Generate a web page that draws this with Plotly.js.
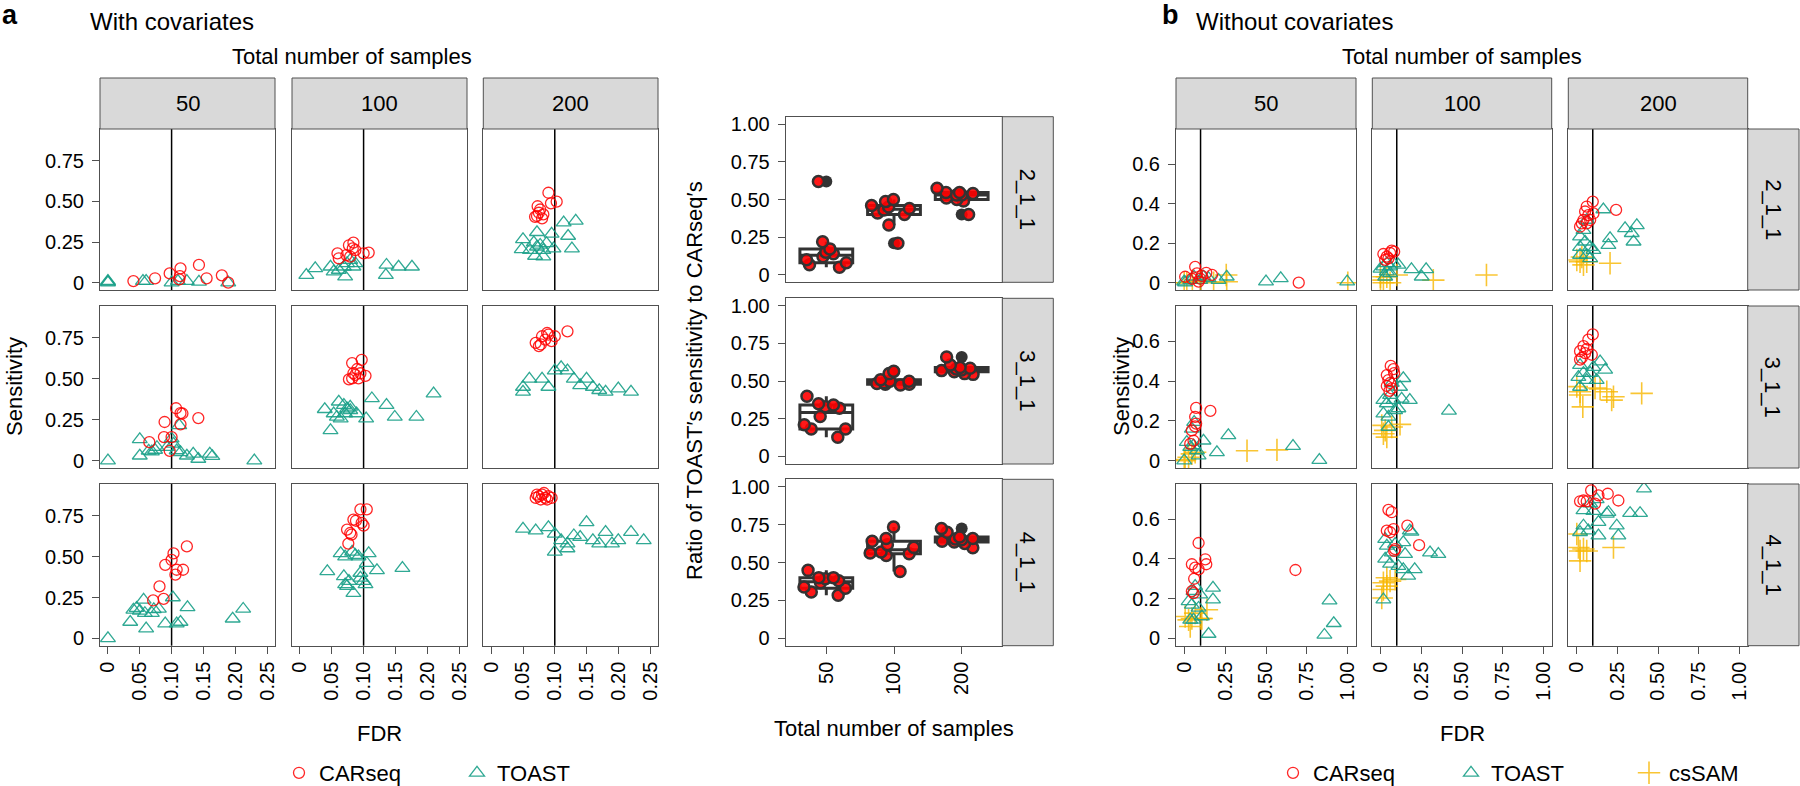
<!DOCTYPE html>
<html><head><meta charset="utf-8">
<script src="https://cdn.plot.ly/plotly-3.0.1.min.js"></script>
<style>html,body{margin:0;padding:0;background:#fff;overflow:hidden}#chart{width:1800px;height:786px}</style>
</head><body><div id="chart"></div>
<script>
// ---------------- DATA ----------------
// Panel a (with covariates): FDR / sensitivity, rows = 2_1_1, 3_1_1, 4_1_1; columns = 50,100,200 samples
const a211_50_car_fdr  = [0.04,0.074,0.097,0.114,0.113,0.112,0.143,0.155,0.179,0.189];
const a211_50_car_sens = [0.01,0.027,0.057,0.088,0.04,0.02,0.109,0.027,0.045,0.0];
const a211_50_toast_fdr  = [0,0,0,0.055,0.06,0.124,0.143,0.189,0.10,0.11];
const a211_50_toast_sens = [0,0.005,0.01,0.01,0.01,0.01,0.005,0.0,0.0,0.01];
const a211_100_car_fdr  = [0.059,0.061,0.077,0.084,0.083,0.087,0.079,0.1,0.108,0.073];
const a211_100_car_sens = [0.18,0.15,0.23,0.246,0.211,0.20,0.16,0.18,0.185,0.17];
const a211_100_toast_fdr  = [0.010,0.024,0.048,0.053,0.061,0.069,0.074,0.079,0.084,0.087,0.071,0.136,0.155,0.176,0.135];
const a211_100_toast_sens = [0.047,0.088,0.098,0.068,0.078,0.098,0.119,0.139,0.098,0.119,0.037,0.109,0.098,0.098,0.047];
const a211_200_car_fdr  = [0.09,0.103,0.094,0.073,0.077,0.072,0.08,0.069,0.075,0.082];
const a211_200_car_sens = [0.553,0.498,0.488,0.47,0.45,0.41,0.395,0.405,0.43,0.42];
const a211_200_toast_fdr  = [0.114,0.133,0.121,0.127,0.095,0.072,0.05,0.048,0.067,0.072,0.077,0.082,0.069,0.082,0.098,0.061,0.087];
const a211_200_toast_sens = [0.369,0.38,0.287,0.21,0.30,0.31,0.266,0.205,0.246,0.221,0.232,0.2,0.164,0.16,0.21,0.2,0.242];

const a311_50_car_fdr  = [0.065,0.089,0.088,0.10,0.107,0.114,0.117,0.114,0.142,0.097];
const a311_50_car_sens = [0.113,0.236,0.144,0.144,0.32,0.29,0.288,0.222,0.26,0.06];
const a311_50_toast_fdr  = [0,0.05,0.05,0.064,0.069,0.074,0.077,0.093,0.10,0.103,0.108,0.112,0.114,0.124,0.134,0.142,0.16,0.164,0.23];
const a311_50_toast_sens = [0,0.13,0.03,0.06,0.055,0.065,0.082,0.082,0.134,0.103,0.062,0.216,0.051,0.03,0.041,0.01,0.041,0.027,0.0];
const a311_100_car_fdr  = [0.082,0.097,0.09,0.084,0.077,0.082,0.092,0.103,0.087,0.095];
const a311_100_car_sens = [0.596,0.616,0.56,0.534,0.497,0.503,0.503,0.518,0.524,0.534];
const a311_100_toast_fdr  = [0.039,0.061,0.053,0.048,0.058,0.064,0.071,0.079,0.079,0.089,0.104,0.113,0.136,0.149,0.183,0.21,0.069,0.074];
const a311_100_toast_sens = [0.314,0.36,0.288,0.185,0.267,0.257,0.288,0.329,0.308,0.288,0.257,0.38,0.339,0.267,0.267,0.41,0.339,0.318];
const a311_200_car_fdr  = [0.07,0.075,0.08,0.085,0.09,0.095,0.1,0.078,0.088,0.12];
const a311_200_car_sens = [0.72,0.70,0.76,0.74,0.77,0.73,0.76,0.71,0.78,0.79];
const a311_200_toast_fdr  = [0.05,0.06,0.08,0.1,0.11,0.12,0.13,0.15,0.16,0.17,0.2,0.22,0.05,0.09,0.14,0.18];
const a311_200_toast_sens = [0.45,0.5,0.5,0.55,0.57,0.55,0.5,0.5,0.45,0.43,0.44,0.42,0.42,0.45,0.46,0.42];

const a411_50_car_fdr  = [0.103,0.10,0.09,0.124,0.118,0.106,0.108,0.081,0.0875,0.071];
const a411_50_car_sens = [0.52,0.48,0.45,0.563,0.42,0.39,0.42,0.318,0.242,0.232];
const a411_50_toast_fdr  = [0,0.035,0.04,0.045,0.056,0.05,0.058,0.069,0.072,0.08,0.06,0.09,0.102,0.108,0.114,0.125,0.196,0.2125];
const a411_50_toast_sens = [0,0.10,0.174,0.185,0.236,0.168,0.154,0.154,0.178,0.18,0.06,0.09,0.25,0.09,0.10,0.19,0.12,0.18];
const a411_100_car_fdr  = [0.095,0.105,0.084,0.1,0.097,0.074,0.079,0.081,0.076,0.088];
const a411_100_car_sens = [0.79,0.79,0.727,0.69,0.707,0.666,0.645,0.635,0.58,0.72];
const a411_100_toast_fdr  = [0.064,0.071,0.082,0.087,0.092,0.108,0.043,0.069,0.071,0.074,0.084,0.095,0.1,0.095,0.103,0.105,0.121,0.161,0.077];
const a411_100_toast_sens = [0.52,0.50,0.53,0.51,0.50,0.52,0.41,0.38,0.33,0.32,0.277,0.40,0.35,0.37,0.33,0.46,0.416,0.43,0.35];
const a411_200_car_fdr  = [0.07,0.075,0.08,0.085,0.09,0.078,0.083,0.072,0.088,0.095];
const a411_200_car_sens = [0.86,0.87,0.88,0.86,0.87,0.85,0.89,0.88,0.85,0.86];
const a411_200_toast_fdr  = [0.05,0.07,0.09,0.1,0.11,0.12,0.13,0.14,0.15,0.16,0.17,0.19,0.2,0.22,0.24,0.18,0.1,0.12];
const a411_200_toast_sens = [0.67,0.66,0.68,0.64,0.6,0.55,0.63,0.62,0.71,0.6,0.58,0.58,0.6,0.65,0.6,0.65,0.53,0.58];

// Ratio of TOAST's sensitivity to CARseq's
const ratio211_50  = [0.62,0.22,0.066,0.172,0.10,0.05,0.12,0.14,0.15,0.08];
const ratio211_100 = [0.50,0.46,0.45,0.21,0.486,0.40,0.33,0.43,0.44,0.41];
const ratio211_200 = [0.547,0.50,0.547,0.53,0.49,0.574,0.53,0.51,0.40,0.54];
const ratio311_50  = [0.342,0.33,0.40,0.32,0.35,0.265,0.21,0.128,0.183,0.183];
const ratio311_100 = [0.48,0.485,0.475,0.55,0.50,0.50,0.565,0.49,0.48,0.51];
const ratio311_200 = [0.66,0.585,0.58,0.55,0.607,0.563,0.574,0.57,0.545,0.59];
const ratio411_50  = [0.40,0.338,0.305,0.33,0.448,0.393,0.283,0.38,0.366,0.40];
const ratio411_100 = [0.735,0.658,0.57,0.618,0.547,0.563,0.558,0.44,0.60,0.64];
const ratio411_200 = [0.724,0.70,0.636,0.65,0.625,0.598,0.668,0.655,0.658,0.64];

// Panel b (without covariates)
const b211_50_car_fdr  = [0.006,0.067,0.078,0.088,0.135,0.17,0.098,0.70,0.108,0.047];
const b211_50_car_sens = [0.03,0.08,0.047,0.005,0.05,0.039,0.02,0.0,0.034,0.02];
const b211_50_toast_fdr  = [0,0.006,0.06,0.118,0.149,0.21,0.26,0.50,0.59,0.996,0.037,0.098];
const b211_50_toast_sens = [0.005,0.0,0.03,0.03,0.022,0.013,0.03,0.005,0.022,0.005,0.013,0.013];
const b211_50_cssam_fdr  = [0.0,0.016,0.18,0.257,0.26,1.0,0.05,0.1];
const b211_50_cssam_sens = [0,0.0,0,0.039,0.005,0,0.005,0.01];
const b211_100_car_fdr  = [0.018,0.039,0.069,0.084,0.059,0.049,0.029];
const b211_100_car_sens = [0.145,0.132,0.162,0.157,0.15,0.123,0.115];
const b211_100_toast_fdr  = [0.0,0.018,0.039,0.059,0.08,0.11,0.19,0.253,0.28,0.039,0.059,0.029];
const b211_100_toast_sens = [0.07,0.081,0.098,0.081,0.098,0.09,0.067,0.03,0.067,0.056,0.047,0.03];
const b211_100_cssam_fdr  = [0.0,0.018,0.059,0.039,0.1,0.324,0.65,0.0];
const b211_100_cssam_sens = [0.013,0.0,0.0,0.03,0.039,0.013,0.039,0.03];
const b211_200_car_fdr  = [0.1,0.063,0.053,0.104,0.033,0.043,0.063,0.084,0.243,0.073,0.022];
const b211_200_car_sens = [0.41,0.385,0.36,0.35,0.30,0.317,0.30,0.317,0.368,0.342,0.283];
const b211_200_toast_fdr  = [0.165,0.063,0.043,0.022,0.022,0.053,0.084,0.104,0.063,0.022,0.206,0.196,0.298,0.37,0.339,0.35,0.084];
const b211_200_toast_sens = [0.37,0.317,0.266,0.233,0.18,0.207,0.18,0.165,0.14,0.14,0.224,0.19,0.275,0.29,0.25,0.207,0.123];
const b211_200_cssam_fdr  = [0.002,0.022,0.043,0.033,0.063,0.206];
const b211_200_cssam_sens = [0.115,0.106,0.09,0.13,0.106,0.098];

const b311_50_car_fdr  = [0.073,0.16,0.067,0.073,0.067,0.047,0.057,0.037];
const b311_50_car_sens = [0.265,0.25,0.22,0.186,0.172,0.152,0.10,0.084];
const b311_50_toast_fdr  = [0.061,0.047,0.016,0.037,0.057,0.078,0.118,0.2,0.27,0.665,0.826,0.0,0.088];
const b311_50_toast_sens = [0.194,0.16,0.093,0.068,0.076,0.051,0.10,0.042,0.127,0.073,0.003,0.0,0.025];
const b311_50_cssam_fdr  = [0.0,0.006,0.027,0.047,0.067,0.384,0.567];
const b311_50_cssam_sens = [0,0.005,0.017,0.034,0.042,0.05,0.054];
const b311_100_car_fdr  = [0.063,0.084,0.039,0.049,0.059,0.039,0.069,0.055,0.08];
const b311_100_car_sens = [0.476,0.44,0.43,0.405,0.39,0.375,0.363,0.351,0.46];
const b311_100_toast_fdr  = [0.14,0.12,0.069,0.018,0.039,0.08,0.13,0.18,0.018,0.049,0.11,0.049,0.42,0.059,0.09];
const b311_100_toast_sens = [0.414,0.37,0.39,0.304,0.287,0.304,0.31,0.304,0.236,0.22,0.262,0.169,0.25,0.329,0.253];
const b311_100_cssam_fdr  = [0.008,0.029,0.039,0.069,0.12,0.018];
const b311_100_cssam_sens = [0.177,0.152,0.118,0.169,0.182,0.135];
const b311_200_car_fdr  = [0.1,0.073,0.043,0.022,0.053,0.094,0.033,0.022,0.063];
const b311_200_car_sens = [0.634,0.608,0.575,0.55,0.54,0.532,0.517,0.508,0.56];
const b311_200_toast_fdr  = [0.145,0.176,0.022,0.043,0.084,0.012,0.063,0.124,0.022,0.104];
const b311_200_toast_sens = [0.498,0.456,0.48,0.44,0.44,0.42,0.405,0.405,0.37,0.47];
const b311_200_cssam_fdr  = [0.002,0.022,0.186,0.227,0.216,0.40,0.039,0.022,0.114,0.145];
const b311_200_cssam_sens = [0.372,0.346,0.346,0.321,0.304,0.338,0.27,0.33,0.365,0.36];

const b411_50_car_fdr  = [0.088,0.047,0.067,0.088,0.129,0.135,0.061,0.047,0.057,0.68];
const b411_50_car_sens = [0.48,0.373,0.356,0.347,0.398,0.373,0.30,0.237,0.228,0.344];
const b411_50_toast_fdr  = [0.067,0.057,0.098,0.027,0.047,0.088,0.037,0.057,0.108,0.176,0.176,0.149,0.888,0.914,0.857];
const b411_50_toast_sens = [0.263,0.237,0.22,0.186,0.169,0.153,0.093,0.093,0.11,0.254,0.195,0.022,0.19,0.076,0.017];
const b411_50_cssam_fdr  = [0.006,0.027,0.047,0.067,0.108,0.1,0.037,0.139];
const b411_50_cssam_sens = [0.11,0.093,0.10,0.127,0.10,0.10,0.06,0.144];
const b411_100_car_fdr  = [0.049,0.069,0.165,0.039,0.059,0.237,0.08,0.09,0.084];
const b411_100_car_sens = [0.647,0.635,0.567,0.542,0.534,0.469,0.55,0.449,0.44];
const b411_100_toast_fdr  = [0.018,0.029,0.039,0.069,0.09,0.14,0.18,0.151,0.11,0.14,0.21,0.17,0.304,0.355,0.029,0.059,0.19];
const b411_100_toast_sens = [0.195,0.5,0.466,0.432,0.475,0.483,0.542,0.424,0.364,0.347,0.347,0.314,0.432,0.424,0.40,0.375,0.536];
const b411_100_cssam_fdr  = [0.018,0.039,0.059,0.09,0.018,0.008,0.039];
const b411_100_cssam_sens = [0.28,0.305,0.288,0.297,0.246,0.203,0.263];
const b411_200_car_fdr  = [0.09,0.043,0.135,0.192,0.257,0.022,0.063,0.114];
const b411_200_car_sens = [0.745,0.694,0.72,0.728,0.694,0.69,0.69,0.678];
const b411_200_toast_fdr  = [0.414,0.124,0.084,0.043,0.196,0.186,0.329,0.39,0.135,0.247,0.043,0.022,0.073,0.135,0.257,0.104];
const b411_200_toast_sens = [0.754,0.7,0.678,0.644,0.635,0.627,0.63,0.63,0.585,0.567,0.567,0.534,0.542,0.517,0.517,0.64];
const b411_200_cssam_fdr  = [0.002,0.012,0.022,0.043,0.063,0.227,0.022];
const b411_200_cssam_sens = [0.525,0.457,0.44,0.45,0.44,0.457,0.39];

// labels
const sampleSizes = ['50','100','200'];
const settings = ['2_1_1','3_1_1','4_1_1'];
const aXTickVals = [0,0.05,0.10,0.15,0.20,0.25];
const aXTickText = ['0','0.05','0.10','0.15','0.20','0.25'];
const aYTickVals = [0,0.25,0.5,0.75];
const aYTickText = ['0','0.25','0.50','0.75'];
const boxYTickVals = [0,0.25,0.5,0.75,1];
const boxYTickText = ['0','0.25','0.50','0.75','1.00'];
const bXTickVals = [0,0.25,0.5,0.75,1];
const bXTickText = ['0','0.25','0.50','0.75','1.00'];
const bYTickVals = [0,0.2,0.4,0.6];
const bYTickText = ['0','0.2','0.4','0.6'];

// ---------------- BUILD ----------------
const W = 1800, H = 786;
const FONT = 'Liberation Sans, Arial, Helvetica, sans-serif';
const BORDER = '#505050';
const RED = 'rgba(255,0,0,0.85)';
const TEAL = 'rgba(26,160,136,0.9)';
const GOLD = 'rgba(247,182,0,0.8)';

const aData = [
  [[a211_50_car_fdr,a211_50_car_sens,a211_50_toast_fdr,a211_50_toast_sens],
   [a211_100_car_fdr,a211_100_car_sens,a211_100_toast_fdr,a211_100_toast_sens],
   [a211_200_car_fdr,a211_200_car_sens,a211_200_toast_fdr,a211_200_toast_sens]],
  [[a311_50_car_fdr,a311_50_car_sens,a311_50_toast_fdr,a311_50_toast_sens],
   [a311_100_car_fdr,a311_100_car_sens,a311_100_toast_fdr,a311_100_toast_sens],
   [a311_200_car_fdr,a311_200_car_sens,a311_200_toast_fdr,a311_200_toast_sens]],
  [[a411_50_car_fdr,a411_50_car_sens,a411_50_toast_fdr,a411_50_toast_sens],
   [a411_100_car_fdr,a411_100_car_sens,a411_100_toast_fdr,a411_100_toast_sens],
   [a411_200_car_fdr,a411_200_car_sens,a411_200_toast_fdr,a411_200_toast_sens]]
];
const bData = [
  [[b211_50_car_fdr,b211_50_car_sens,b211_50_toast_fdr,b211_50_toast_sens,b211_50_cssam_fdr,b211_50_cssam_sens],
   [b211_100_car_fdr,b211_100_car_sens,b211_100_toast_fdr,b211_100_toast_sens,b211_100_cssam_fdr,b211_100_cssam_sens],
   [b211_200_car_fdr,b211_200_car_sens,b211_200_toast_fdr,b211_200_toast_sens,b211_200_cssam_fdr,b211_200_cssam_sens]],
  [[b311_50_car_fdr,b311_50_car_sens,b311_50_toast_fdr,b311_50_toast_sens,b311_50_cssam_fdr,b311_50_cssam_sens],
   [b311_100_car_fdr,b311_100_car_sens,b311_100_toast_fdr,b311_100_toast_sens,b311_100_cssam_fdr,b311_100_cssam_sens],
   [b311_200_car_fdr,b311_200_car_sens,b311_200_toast_fdr,b311_200_toast_sens,b311_200_cssam_fdr,b311_200_cssam_sens]],
  [[b411_50_car_fdr,b411_50_car_sens,b411_50_toast_fdr,b411_50_toast_sens,b411_50_cssam_fdr,b411_50_cssam_sens],
   [b411_100_car_fdr,b411_100_car_sens,b411_100_toast_fdr,b411_100_toast_sens,b411_100_cssam_fdr,b411_100_cssam_sens],
   [b411_200_car_fdr,b411_200_car_sens,b411_200_toast_fdr,b411_200_toast_sens,b411_200_cssam_fdr,b411_200_cssam_sens]]
];
const ratioData = [
  [ratio211_50,ratio211_100,ratio211_200],
  [ratio311_50,ratio311_100,ratio311_200],
  [ratio411_50,ratio411_100,ratio411_200]
];

// pixel geometry
const aCols = [[100,275],[292,467],[483.3,658]];
const rows  = [[129,290],[306,468],[484,645.7]];
const bCols = [[1176,1356],[1372.3,1551.7],[1568.3,1747.7]];
const boxCol = [785.7,1002.3];
const boxRows = [[116.7,282.3],[298.3,464],[479.3,645.7]];
const stripTop = [78,129];

const px = v => v / W;
const py = v => 1 - v / H;

const layout = {
  width: W, height: H, autosize: false,
  margin: {l:0,r:0,t:0,b:0,pad:0,autoexpand:false},
  paper_bgcolor: '#fff', plot_bgcolor: '#fff',
  font: {family: FONT, size: 20, color: '#000'},
  showlegend: true,
  boxmode: 'overlay',
  shapes: [], annotations: [],
  legend: {orientation:'h', x: px(279), xanchor:'left', y: py(773), yanchor:'middle',
           font:{size:22, family:FONT}, bgcolor:'rgba(0,0,0,0)', entrywidth: 133, entrywidthmode:'pixels',
           itemwidth: 30, tracegroupgap: 0},
  legend2: {orientation:'h', x: px(1273), xanchor:'left', y: py(773), yanchor:'middle',
           font:{size:22, family:FONT}, bgcolor:'rgba(0,0,0,0)', entrywidth: 133, entrywidthmode:'pixels',
           itemwidth: 30, tracegroupgap: 0}
};
const traces = [];

function axisBase() {
  return {showline:true, mirror:true, linecolor:BORDER, linewidth:1, showgrid:false, zeroline:false,
          ticks:'', showticklabels:false, fixedrange:true, automargin:false,
          tickfont:{size:20, family:FONT, color:'#000'}, tickcolor:BORDER, ticklen:7, tickwidth:1};
}
let k = 0;
function addAxes(xd, yd, xr, yr, opts) {
  k += 1;
  const xa = Object.assign(axisBase(), {domain:[px(xd[0]), px(xd[1])], range:xr, anchor:'y'+k}, opts.x||{});
  const ya = Object.assign(axisBase(), {domain:[py(yd[1]), py(yd[0])], range:yr, anchor:'x'+k}, opts.y||{});
  layout['xaxis'+k] = xa; layout['yaxis'+k] = ya;
  return k;
}
function vline(id) {
  layout.shapes.push({type:'line', xref:'x'+id, yref:'y'+id+' domain', x0:0.1, x1:0.1, y0:0, y1:1,
                      line:{color:'#000', width:1.5}, layer:'below'});
}
function strip(x0,x1,y0,y1,text,vertical) {
  layout.shapes.push({type:'rect', xref:'paper', yref:'paper', x0:px(x0), x1:px(x1), y0:py(y1), y1:py(y0),
                      fillcolor:'#D9D9D9', line:{color:BORDER, width:1}, layer:'above'});
  layout.annotations.push({xref:'paper', yref:'paper', x:px((x0+x1)/2), y:py((y0+y1)/2), text:text,
                           showarrow:false, font:{size:22, family:FONT, color:'#000'},
                           textangle: vertical ? 90 : 0, xanchor:'center', yanchor:'middle'});
}
function ann(text, x, y, opts) {
  layout.annotations.push(Object.assign({xref:'paper', yref:'paper', x:px(x), y:py(y), text:text, showarrow:false,
    font:{size:22, family:FONT, color:'#000'}, xanchor:'center', yanchor:'middle'}, opts||{}));
}
const mk = {
  car:   {symbol:'circle-open', size:11, color:RED, line:{color:RED, width:1.3}},
  toast: {symbol:'triangle-up-open', size:13, color:TEAL, line:{color:TEAL, width:1.3}},
  cssam: {symbol:'cross-thin-open', size:16, color:GOLD, line:{color:GOLD, width:1.6}}
};
const shown = {};
function pts(id, xs, ys, name, m, legendName) {
  const key = legendName + name;
  traces.push({type:'scatter', mode:'markers', x:xs, y:ys, xaxis:'x'+id, yaxis:'y'+id, name:name,
               marker:m, hoverinfo:'skip', legend:legendName, showlegend: !shown[key], cliponaxis:true});
  shown[key] = true;
}

// Panel a grid
for (let r = 0; r < 3; r++) {
  for (let c = 0; c < 3; c++) {
    const id = addAxes(aCols[c], rows[r], [-0.0125, 0.2625], [-0.045, 0.945], {
      x: r === 2 ? {ticks:'outside', showticklabels:true, tickvals:aXTickVals, ticktext:aXTickText, tickangle:-90} : {},
      y: c === 0 ? {ticks:'outside', showticklabels:true, tickvals:aYTickVals, ticktext:aYTickText, ticklabelstandoff:4} : {}
    });
    vline(id);
    const d = aData[r][c];
    pts(id, d[2], d[3], 'TOAST', mk.toast, 'legend');
    pts(id, d[0], d[1], 'CARseq', mk.car, 'legend');
  }
}
for (let c = 0; c < 3; c++) strip(aCols[c][0], aCols[c][1], stripTop[0], stripTop[1], sampleSizes[c], false);

// Box panel
for (let r = 0; r < 3; r++) {
  const id = addAxes(boxCol, boxRows[r], [-0.6, 2.6], [-0.05, 1.05], {
    x: Object.assign({type:'category', categoryorder:'array', categoryarray:sampleSizes},
         r === 2 ? {ticks:'outside', showticklabels:true, tickangle:-90} : {}),
    y: {ticks:'outside', showticklabels:true, tickvals:boxYTickVals, ticktext:boxYTickText, ticklabelstandoff:4}
  });
  const xs = [], ys = [];
  for (let c = 0; c < 3; c++) ratioData[r][c].forEach(v => { xs.push(sampleSizes[c]); ys.push(v); });
  traces.push({type:'box', x:xs, y:ys, xaxis:'x'+id, yaxis:'y'+id, boxpoints:'outliers', width:0.78,
               whiskerwidth:0, fillcolor:'rgba(255,255,255,0)', line:{color:'#333333', width:3},
               marker:{color:'#333333', size:12, line:{width:0}}, showlegend:false, hoverinfo:'skip',
               quartilemethod:'inclusive'});
  traces.push({type:'box', x:xs, y:ys, xaxis:'x'+id, yaxis:'y'+id, boxpoints:'all', jitter:1, pointpos:0,
               width:0.78, whiskerwidth:0, fillcolor:'rgba(0,0,0,0)', line:{color:'rgba(0,0,0,0)', width:0},
               marker:{color:'rgba(255,0,0,0.9)', size:11, line:{color:'#333333', width:2.5}},
               showlegend:false, hoverinfo:'skip', quartilemethod:'inclusive'});
  strip(boxCol[1], 1053.3, boxRows[r][0], boxRows[r][1], settings[r], true);
}

// Panel b grid
for (let r = 0; r < 3; r++) {
  for (let c = 0; c < 3; c++) {
    const id = addAxes(bCols[c], rows[r], [-0.05, 1.05], [-0.037, 0.777], {
      x: r === 2 ? {ticks:'outside', showticklabels:true, tickvals:bXTickVals, ticktext:bXTickText, tickangle:-90} : {},
      y: c === 0 ? {ticks:'outside', showticklabels:true, tickvals:bYTickVals, ticktext:bYTickText, ticklabelstandoff:4} : {}
    });
    vline(id);
    const d = bData[r][c];
    pts(id, d[4], d[5], 'csSAM', mk.cssam, 'legend2');
    pts(id, d[2], d[3], 'TOAST', mk.toast, 'legend2');
    pts(id, d[0], d[1], 'CARseq', mk.car, 'legend2');
  }
  strip(bCols[2][1], 1799, rows[r][0], rows[r][1], settings[r], true);
}
for (let c = 0; c < 3; c++) strip(bCols[c][0], bCols[c][1], stripTop[0], stripTop[1], sampleSizes[c], false);

// Titles & labels
ann('<b>a</b>', 0, 15, {xanchor:'left', font:{size:27, family:FONT, color:'#000'}});
ann('With covariates', 88, 22, {xanchor:'left', font:{size:24, family:FONT, color:'#000'}});
ann('Total number of samples', 352, 57);
ann('Sensitivity', 14, 387, {textangle:-90});
ann('FDR', 379, 733);
ann('Ratio of TOAST′s sensitivity to CARseq′s', 694, 381, {textangle:-90});
ann('Total number of samples', 894, 728);
ann('<b>b</b>', 1160, 15, {xanchor:'left', font:{size:27, family:FONT, color:'#000'}});
ann('Without covariates', 1194, 22, {xanchor:'left', font:{size:24, family:FONT, color:'#000'}});
ann('Total number of samples', 1462, 57);
ann('Sensitivity', 1121, 387, {textangle:-90});
ann('FDR', 1462, 733);

const order = {CARseq:0, TOAST:1, csSAM:2};
traces.filter(t => t.showlegend).forEach(t => { t.legendrank = order[t.name]; });

Plotly.newPlot('chart', traces, layout, {staticPlot:true, displayModeBar:false});
</script></body></html>
